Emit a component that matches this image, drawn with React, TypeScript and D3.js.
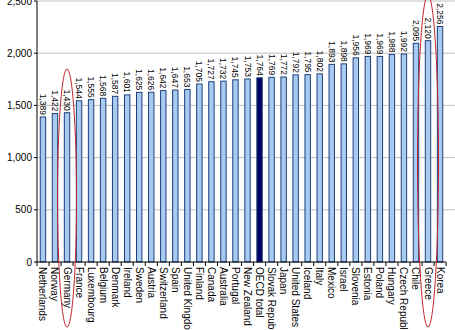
import React from "react";
import * as d3 from "d3";

const countries = ["Netherlands","Norway","Germany","France","Luxembourg","Belgium","Denmark","Ireland","Sweden","Austria","Switzerland","Spain","United Kingdom","Finland","Canada","Australia","Portugal","New Zealand","OECD total","Slovak Republic","Japan","United States","Iceland","Italy","Mexico","Israel","Slovenia","Estonia","Poland","Hungary","Czech Republic","Chile","Greece","Korea"];
const hours = [1389,1422,1430,1544,1555,1568,1587,1601,1625,1626,1642,1647,1653,1705,1727,1732,1745,1753,1764,1769,1772,1792,1795,1802,1893,1898,1956,1969,1969,1988,1992,2095,2120,2256];
const yTicks = [0,500,1000,1500,2000,2500];
const highlighted = ["Germany","Greece"];

export default function App() {
  const W = 455, H = 330;
  const x0 = 37, x1 = 446;
  const x = d3.scaleBand<string>().domain(countries).range([x0, x1]).paddingInner(0.55).paddingOuter(0.27);
  const y = d3.scaleLinear().domain([0, 2500]).range([262, 1]);
  const fmt = d3.format(",");
  const font = "'Liberation Sans', Arial, sans-serif";
  const step = x.step();
  const ellipses = [
    { c: "Germany", cy: 198, ry: 129, rx: 9.5 },
    { c: "Greece", cy: 161, ry: 166, rx: 10.5 },
  ];
  return (
    <svg width={W} height={H} style={{ position: "absolute", left: 0, top: 0, background: "#fff" }} fontFamily={font}>
      {yTicks.filter(t => t > 0).map(t => (
        <line key={"g"+t} x1={x0} x2={W} y1={y(t)} y2={y(t)} stroke="#c0c0c0" strokeWidth={1} />
      ))}
      {yTicks.map(t => (
        <g key={"yt"+t}>
          <line x1={x0 - 3} x2={x0} y1={y(t)} y2={y(t)} stroke="#000" />
          <text x={x0 - 5} y={y(t)} dy="0.35em" textAnchor="end" fontSize={10} fill="#000">{fmt(t)}</text>
        </g>
      ))}
      {countries.map((c, i) => (
        <rect key={"b"+c} x={x(c)} y={y(hours[i])} width={x.bandwidth()} height={y(0) - y(hours[i])}
          fill={c === "OECD total" ? "#000066" : "#a6caf0"} stroke="#1f3f7a" strokeWidth={1} />
      ))}
      <line x1={x0} x2={x0} y1={y(2500)} y2={y(0)} stroke="#000" />
      <line x1={x0} x2={x1} y1={y(0)} y2={y(0)} stroke="#000" />
      {d3.range(countries.length + 1).map(i => (
        <line key={"xt"+i} x1={x0 + i * step} x2={x0 + i * step} y1={y(0)} y2={y(0) + 4} stroke="#000" />
      ))}
      {countries.map((c, i) => {
        const cx = (x(c) as number) + x.bandwidth() / 2;
        return (
          <text key={"v"+c} transform={`translate(${cx},${y(hours[i]) - 2}) rotate(90)`} textAnchor="end"
            dominantBaseline="central" fontSize={8.5} fill="#000">{fmt(hours[i])}</text>
        );
      })}
      {countries.map(c => {
        const cx = (x(c) as number) + x.bandwidth() / 2;
        return (
          <text key={"l"+c} transform={`translate(${cx},${y(0) + 5}) rotate(90)`} textAnchor="start"
            dominantBaseline="central" fontSize={10} fill="#000">{c}</text>
        );
      })}
      {ellipses.filter(e => highlighted.includes(e.c)).map(e => (
        <ellipse key={"e"+e.c} cx={(x(e.c) as number) + x.bandwidth() / 2} cy={e.cy} rx={e.rx} ry={e.ry}
          fill="none" stroke="#c0282d" strokeWidth={1} />
      ))}
    </svg>
  );
}
